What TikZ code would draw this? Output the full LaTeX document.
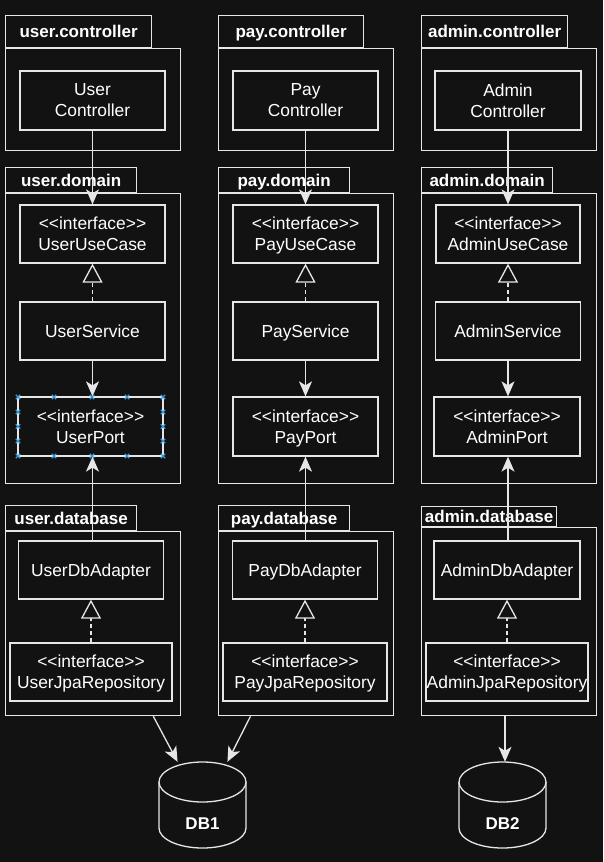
\documentclass[tikz,border=0pt]{standalone}
\usepackage{fontspec}
\setmainfont{Liberation Sans}
\usetikzlibrary{arrows.meta,calc}
\definecolor{bg}{HTML}{121212}
\definecolor{ln}{HTML}{E6E6E6}
\definecolor{sel}{HTML}{3A9BDC}
\begin{document}
\begin{tikzpicture}[x=1pt,y=-1pt,
  every node/.style={font=\fontsize{17.4}{21}\selectfont, text=white},
  box/.style={draw=ln, line width=1.3pt, fill=bg, align=center, minimum width=145pt, minimum height=58pt, inner sep=0pt, text depth=0pt},
  wide/.style={box, minimum width=162pt},
  pkgbody/.style={draw=ln, line width=1.3pt, fill=bg, inner sep=0pt, minimum width=175pt, anchor=north west},
  pkgtab/.style={draw=ln, line width=1.3pt, fill=bg, inner sep=0pt, anchor=south west, text depth=0pt, font=\bfseries\fontsize{17}{20}\selectfont},
  dep/.style={draw=ln, line width=1.3pt, -{Stealth[length=15pt,width=13pt,inset=4pt]}},
  impl/.style={draw=ln, line width=1.3pt, dash pattern=on 4pt off 3pt, -{Triangle[open,length=19pt,width=20pt,fill=bg]}},
  dbline/.style={draw=ln, line width=1.3pt, fill=bg},
  handle/.style={draw=sel, line width=1.1pt},
]
\useasboundingbox[fill=bg] (0,0) rectangle (603,862);

% ---------- packages ----------
% user
\node[pkgtab, minimum width=146pt, minimum height=32pt] (ucT) at (5,48) {user.controller};
\node[pkgbody, minimum height=102pt] (ucP) at (5,48) {};
\node[pkgtab, minimum width=131pt, minimum height=25pt] (udT) at (5,193) {user.domain};
\node[pkgbody, minimum height=290pt] (udP) at (5,193) {};
\node[pkgtab, minimum width=131pt, minimum height=25pt] (ubT) at (5,531) {user.database};
\node[pkgbody, minimum height=184pt] (ubP) at (5,531) {};
% pay
\node[pkgtab, minimum width=145pt, minimum height=32pt] (pcT) at (218,48) {pay.controller};
\node[pkgbody, minimum height=102pt] (pcP) at (218,48) {};
\node[pkgtab, minimum width=131pt, minimum height=25pt] (pdT) at (218,193) {pay.domain};
\node[pkgbody, minimum height=290pt] (pdP) at (218,193) {};
\node[pkgtab, minimum width=131pt, minimum height=25pt] (pbT) at (218,531) {pay.database};
\node[pkgbody, minimum height=184pt] (pbP) at (218,531) {};
% admin
\node[pkgtab, minimum width=146pt, minimum height=32pt] (acT) at (421,48) {admin.controller};
\node[pkgbody, minimum height=102pt] (acP) at (421,48) {};
\node[pkgtab, minimum width=131pt, minimum height=25pt] (adT) at (421,193) {admin.domain};
\node[pkgbody, minimum height=290pt] (adP) at (421,193) {};
\node[pkgtab, minimum width=135pt, minimum height=20pt] (abT) at (421,527) {admin.database};
\node[pkgbody, minimum height=188pt] (abP) at (421,527) {};

% ---------- classes ----------
\node[box, minimum height=59pt] (uCtl) at (92.5,100.5) {User\\Controller};
\node[box] (uUse) at (92.5,234) {{<}{<}interface{>}{>}\\UserUseCase};
\node[box] (uSvc) at (92.5,331) {UserService};
\node[box, minimum height=59pt] (uPort) at (90.5,426.5) {{<}{<}interface{>}{>}\\UserPort};
\node[box] (uDb) at (91,570) {UserDbAdapter};
\node[wide] (uJpa) at (91,672) {{<}{<}interface{>}{>}\\UserJpaRepository};

\node[box, minimum height=59pt] (pCtl) at (305.5,100.5) {Pay\\Controller};
\node[box] (pUse) at (305.5,234) {{<}{<}interface{>}{>}\\PayUseCase};
\node[box] (pSvc) at (305.5,331) {PayService};
\node[box, minimum height=59pt] (pPort) at (305.5,426.5) {{<}{<}interface{>}{>}\\PayPort};
\node[box] (pDb) at (305,570) {PayDbAdapter};
\node[wide, minimum width=164pt] (pJpa) at (305,672) {{<}{<}interface{>}{>}\\PayJpaRepository};

\node[box, minimum width=146pt, minimum height=59pt] (aCtl) at (508,100.5) {Admin\\Controller};
\node[box, minimum width=144pt] (aUse) at (508,234) {{<}{<}interface{>}{>}\\AdminUseCase};
\node[box] (aSvc) at (508,331) {AdminService};
\node[box, minimum width=146pt, minimum height=59pt] (aPort) at (507,426.5) {{<}{<}interface{>}{>}\\AdminPort};
\node[box, minimum width=146pt] (aDb) at (507,570) {AdminDbAdapter};
\node[wide] (aJpa) at (507,672) {{<}{<}interface{>}{>}\\AdminJpaRepository};

% ---------- databases ----------
\draw[dbline] (159,782) -- (159,828) .. controls (159,839.05) and (178.48,848) .. (202.5,848)
  .. controls (226.52,848) and (246,839.05) .. (246,828) -- (246,782);
\draw[dbline] (202.5,782) ellipse [x radius=43.5pt, y radius=20pt];
\node[minimum width=87pt, minimum height=86pt, inner sep=0pt] (db1) at (202.5,805) {};
\node[font=\bfseries\fontsize{17}{20}\selectfont] (db1t) at (202.5,824) {DB1};

\draw[dbline] (459,782) -- (459,828) .. controls (459,839.05) and (478.48,848) .. (502.5,848)
  .. controls (526.52,848) and (546,839.05) .. (546,828) -- (546,782);
\draw[dbline] (502.5,782) ellipse [x radius=43.5pt, y radius=20pt];
\node[minimum width=87pt, minimum height=86pt, inner sep=0pt] (db2) at (502.5,805) {};
\node[font=\bfseries\fontsize{17}{20}\selectfont] (db2t) at (502.5,824) {DB2};

% ---------- connectors ----------
\draw[dep] (uCtl.south) -- (uUse.north);
\draw[impl] (uSvc.north) -- (uUse.south);
\draw[dep] (uSvc.south) -- (uSvc.south |- uPort.north);
\draw[dep] (uSvc.south |- uDb.north) -- (uSvc.south |- uPort.south);
\draw[impl] (uJpa.north) -- (uDb.south);

\draw[dep] (pCtl.south) -- (pUse.north);
\draw[impl] (pSvc.north) -- (pUse.south);
\draw[dep] (pSvc.south) -- (pPort.north);
\draw[dep] (pPort.south |- pDb.north) -- (pPort.south);
\draw[impl] (pJpa.north) -- (pDb.south);

\draw[dep] (aCtl.south) -- (aUse.north);
\draw[impl] (aSvc.north) -- (aSvc.north |- aUse.south);
\draw[dep] (aSvc.south) -- (aSvc.south |- aPort.north);
\draw[dep] (aSvc.south |- aDb.north) -- (aSvc.south |- aPort.south);
\draw[impl] (aJpa.north) -- (aDb.south);

\draw[dep] (ubP.-57) -- (db1.120);
\draw[dep] (pbP.-121) -- (db1.60);
\draw[dep] (db2.north -| 505,0) ++(0,-47) -- (db2.north -| 505,0);

% ---------- selection handles on UserPort ----------
\foreach \hx/\hy in {18/397,54/397,92/397,127/397,163/397,
                      18/456,54/456,92/456,127/456,163/456,
                      18/412,18/426.5,18/441,163/412,163/426.5,163/441}{
  \draw[handle] (\hx-2.2,\hy-2.2) -- (\hx+2.2,\hy+2.2) (\hx-2.2,\hy+2.2) -- (\hx+2.2,\hy-2.2);
}
\end{tikzpicture}
\end{document}
